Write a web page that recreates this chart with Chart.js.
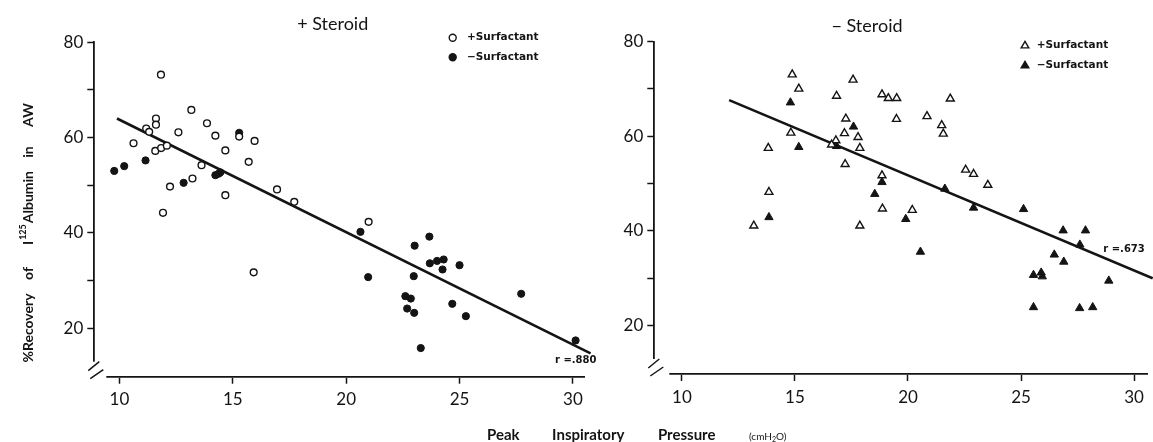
<!DOCTYPE html>
<html><head><meta charset="utf-8">
<script src="https://cdn.jsdelivr.net/npm/chart.js@4.4.1/dist/chart.umd.min.js"></script>
<style>
html,body{margin:0;padding:0;background:#fff;}
#wrap{position:relative;width:1153px;height:442px;background:#fff;}
canvas{position:absolute;left:0;top:0;}
</style></head><body>
<div id="wrap"><canvas id="cL" width="1153" height="442"></canvas><canvas id="cR" width="1153" height="442"></canvas></div>
<script>
const INK = '#141414';

// shared tick values
const xTickValues = [10, 15, 20, 25, 30];
const yTickValues = [20, 30, 40, 50, 60, 70, 80];
const yTickLabels = [20, 40, 60, 80];

// + Steroid panel, + Surfactant (open circles)
const psPlusX = [11.83,13.17,11.61,11.61,11.18,11.31,13.86,12.60,14.23,15.28,15.96,10.62,11.58,11.84,12.09,14.67,13.62,15.70,13.22,12.23,14.67,16.95,11.92,17.71,20.99,15.92];
const psPlusY = [73.2,65.8,64.0,62.7,61.9,61.2,63.0,61.1,60.4,60.2,59.3,58.8,57.2,57.8,58.3,57.3,54.2,54.9,51.4,49.7,47.9,49.1,44.2,46.5,42.3,31.7];
// + Steroid panel, - Surfactant (filled circles)
const psMinusX = [15.28,9.77,10.21,11.15,12.83,14.23,14.37,14.45,20.63,20.97,23.67,23.02,23.69,24.01,24.30,24.25,25.00,22.98,22.61,22.85,22.69,23.00,24.68,25.28,23.29,27.72,30.12];
const psMinusY = [61.0,53.0,54.0,55.2,50.5,52.1,52.4,52.7,40.2,30.7,39.2,37.3,33.6,34.1,34.4,32.3,33.2,30.9,26.7,26.2,24.1,23.2,25.1,22.5,15.8,27.2,17.4];
// + Steroid regression line
const psFitX = [9.89, 30.78];
const psFitY = [64.0, 14.7];

// - Steroid panel, + Surfactant (open triangles)
const msPlusX = [14.88,15.17,17.57,16.84,18.85,19.13,19.50,19.49,17.25,17.19,14.82,17.79,17.87,16.81,16.62,13.82,17.22,18.85,13.85,18.87,13.18,17.87,21.87,20.84,21.49,21.56,22.55,22.90,23.53,20.19];
const msPlusY = [73.0,70.0,71.9,68.5,68.8,68.0,68.0,63.6,63.7,60.6,60.7,59.8,57.5,59.1,58.2,57.5,54.1,51.7,48.2,44.7,41.1,41.1,67.9,64.2,62.3,60.5,52.9,52.0,49.7,44.4];
// - Steroid panel, - Surfactant (filled triangles)
const msMinusX = [14.80,15.17,17.59,16.84,18.85,18.53,13.85,19.90,21.63,22.90,25.11,20.55,26.86,27.85,27.60,26.47,26.89,25.55,25.89,25.94,28.88,25.55,27.59,28.17];
const msMinusY = [67.1,57.7,62.0,57.9,50.3,47.8,42.9,42.5,48.9,44.9,44.6,35.6,40.1,40.1,37.1,35.0,33.5,30.7,31.2,30.4,29.5,23.9,23.7,23.9];
// - Steroid regression line
const msFitX = [12.09, 30.82];
const msFitY = [67.6, 30.0];

// texts
const panelTitles = ['+ Steroid', '\u2212 Steroid'];
const legendLabels = ['+Surfactant', '\u2212Surfactant'];
const rLabels = ['r =.880', 'r =.673'];
const yTitleParts = ['%Recovery', 'of', 'I', '125', 'Albumin', 'in', 'AW'];
const xTitleWords = ['Peak', 'Inspiratory', 'Pressure'];
const xTitleUnit = ['(cmH', '2', 'O)'];

function pts(xs, ys) { return xs.map((x, i) => ({x: x, y: ys[i]})); }

function drawMarker(ctx, kind, filled, x, y, r) {
  ctx.beginPath();
  if (kind === 'circle') {
    ctx.arc(x, y, r, 0, Math.PI * 2);
  } else {
    ctx.moveTo(x, y - r);
    ctx.lineTo(x + 0.866 * r, y + 0.5 * r);
    ctx.lineTo(x - 0.866 * r, y + 0.5 * r);
    ctx.closePath();
  }
  ctx.fillStyle = filled ? INK : '#fff';
  ctx.fill();
  ctx.lineWidth = 1.4;
  ctx.strokeStyle = INK;
  ctx.stroke();
}

function drawBreak(ctx, a, gapX) {
  ctx.save();
  ctx.fillStyle = '#fff';
  ctx.fillRect(a.left - 4, a.bottom - 15, gapX + 4, 19);
  ctx.strokeStyle = INK;
  ctx.lineWidth = 1.5;
  ctx.beginPath();
  ctx.moveTo(a.left - 6, a.bottom - 6);
  ctx.lineTo(a.left + 5, a.bottom - 15);
  ctx.moveTo(a.left - 4, a.bottom + 2);
  ctx.lineTo(a.left + 9, a.bottom - 7);
  ctx.stroke();
  ctx.restore();
}

function yTitle(ctx) {
  const x = 28;
  ctx.save();
  ctx.fillStyle = INK;
  ctx.textBaseline = 'middle';
  const big = 'bold 14px Lato';
  const small = 'bold 9px Lato';
  const place = (txt, c) => {
    ctx.save(); ctx.translate(x, c); ctx.rotate(-Math.PI / 2);
    ctx.font = big; ctx.textAlign = 'center'; ctx.fillText(txt, 0, 0); ctx.restore();
  };
  place(yTitleParts[0], 328);
  place(yTitleParts[1], 273.5);
  place(yTitleParts[5], 152);
  place(yTitleParts[6], 115);
  // I^125 Albumin
  ctx.font = big; const wI = ctx.measureText(yTitleParts[2]).width;
  const wA = ctx.measureText(yTitleParts[4]).width;
  ctx.font = small; const wS = ctx.measureText(yTitleParts[3]).width;
  const total = wI + 1 + wS + 1 + wA;
  ctx.save(); ctx.translate(x, 208); ctx.rotate(-Math.PI / 2);
  ctx.textAlign = 'left';
  let s = -total / 2;
  ctx.font = big; ctx.fillText(yTitleParts[2], s, 0);
  s += wI + 1;
  ctx.font = small; ctx.fillText(yTitleParts[3], s, -5);
  s += wS + 1;
  ctx.font = big; ctx.fillText(yTitleParts[4], s, 0);
  ctx.restore();
  ctx.restore();
}

function xTitle(ctx) {
  ctx.save();
  ctx.fillStyle = INK;
  ctx.textBaseline = 'alphabetic';
  ctx.textAlign = 'center';
  ctx.font = 'bold 15px Lato';
  const centers = [503.3, 588.3, 686.7];
  xTitleWords.forEach((w, i) => ctx.fillText(w, centers[i], 440));
  ctx.textAlign = 'left';
  ctx.font = '10px Lato';
  let s = 749;
  ctx.fillText(xTitleUnit[0], s, 440); s += ctx.measureText(xTitleUnit[0]).width;
  ctx.font = '7px Lato';
  ctx.fillText(xTitleUnit[1], s, 442); s += ctx.measureText(xTitleUnit[1]).width;
  ctx.font = '10px Lato';
  ctx.fillText(xTitleUnit[2], s, 440);
  ctx.restore();
}

function makePanel(id, cfg) {
  const yW = 60, xH = 40;
  const a = cfg.area;
  const decor = {
    id: 'decor' + id,
    afterDraw(chart) {
      const ctx = chart.ctx;
      const ca = chart.chartArea;
      drawBreak(ctx, ca, cfg.gapX);
      ctx.save();
      ctx.fillStyle = INK;
      ctx.font = '18px Lato';
      ctx.textAlign = 'center';
      ctx.textBaseline = 'alphabetic';
      ctx.fillText(cfg.title, cfg.titlePos[0], cfg.titlePos[1]);
      // legend
      ctx.font = 'bold 10.5px "DejaVu Sans"';
      ctx.textAlign = 'left';
      ctx.textBaseline = 'middle';
      cfg.legendRows.forEach((row, i) => {
        drawMarker(ctx, cfg.marker, i === 1, row[0], row[1], cfg.legendR);
        ctx.fillStyle = INK;
        ctx.fillText(legendLabels[i], row[2], row[1]);
      });
      ctx.font = 'bold 10px "DejaVu Sans"';
      ctx.fillText(cfg.rText, cfg.rPos[0], cfg.rPos[1]);
      ctx.restore();
      if (cfg.extra) cfg.extra(ctx);
    }
  };
  const openStyle = {pointStyle: cfg.marker, pointRadius: cfg.r, pointBorderWidth: 1.4,
    pointBackgroundColor: '#fff', pointBorderColor: INK, showLine: false};
  const fillStyle = {pointStyle: cfg.marker, pointRadius: cfg.r + 0.2, pointBorderWidth: 1,
    pointBackgroundColor: INK, pointBorderColor: INK, showLine: false};
  return new Chart(document.getElementById(id), {
    type: 'scatter',
    data: {
      datasets: [
        Object.assign({label: '+Surfactant', data: pts(cfg.plusX, cfg.plusY)}, openStyle),
        Object.assign({label: '-Surfactant', data: pts(cfg.minusX, cfg.minusY)}, fillStyle),
        {type: 'line', label: 'fit', data: pts(cfg.fitX, cfg.fitY), showLine: true, fill: false,
         borderColor: INK, borderWidth: 2.6, pointRadius: 0, clip: false, tension: 0}
      ]
    },
    options: {
      responsive: false, animation: false, devicePixelRatio: 1, events: [],
      layout: {padding: {left: a.left - yW, top: a.top, right: 1153 - a.right, bottom: 442 - a.bottom - xH}},
      plugins: {legend: {display: false}, title: {display: false}, tooltip: {enabled: false}},
      scales: {
        x: {
          type: 'linear', min: cfg.xMin, max: cfg.xMax,
          afterBuildTicks: s => { s.ticks = xTickValues.map(v => ({value: v})); },
          afterFit: s => { s.height = xH; },
          grid: {display: true, drawOnChartArea: false, drawTicks: true, tickLength: 7, tickWidth: 1.5, tickColor: INK, color: INK},
          border: {display: true, color: INK, width: 1.8},
          ticks: {font: {family: 'Lato', size: 17}, color: INK, padding: 6, maxRotation: 0, autoSkip: false,
                  callback: v => String(v)}
        },
        y: {
          type: 'linear', min: cfg.yMin, max: cfg.yMax,
          afterBuildTicks: s => { s.ticks = yTickValues.map(v => ({value: v})); },
          afterFit: s => { s.width = yW; },
          grid: {display: true, drawOnChartArea: false, drawTicks: true, tickLength: 7, tickWidth: 1.5, tickColor: INK, color: INK},
          border: {display: true, color: INK, width: 1.8},
          ticks: {font: {family: 'Lato', size: 17}, color: INK, padding: 4, autoSkip: false,
                  callback: v => yTickLabels.includes(v) ? String(v) : ''}
        }
      }
    },
    plugins: [decor]
  });
}

makePanel('cL', {
  area: {left: 94.3, right: 584, top: 42.3, bottom: 376.7},
  xMin: 8.89, xMax: 30.49, yMin: 9.79, yMax: 80,
  plusX: psPlusX, plusY: psPlusY, minusX: psMinusX, minusY: psMinusY, fitX: psFitX, fitY: psFitY,
  marker: 'circle', r: 3.4, legendR: 3.5, gapX: 12,
  title: panelTitles[0], titlePos: [332.7, 29.5],
  legendRows: [[452.7, 37.7, 467], [452.7, 57.3, 467]],
  rText: rLabels[0], rPos: [555, 360.7],
  extra: yTitle
});

makePanel('cR', {
  area: {left: 654.3, right: 1147.7, top: 41.4, bottom: 374},
  xMin: 8.78, xMax: 30.57, yMin: 9.82, yMax: 80,
  plusX: msPlusX, plusY: msPlusY, minusX: msMinusX, minusY: msMinusY, fitX: msFitX, fitY: msFitY,
  marker: 'triangle', r: 4.6, legendR: 4.4, gapX: 15,
  title: panelTitles[1], titlePos: [867, 31.5],
  legendRows: [[1025, 45.7, 1036.7], [1025, 65.7, 1036.7]],
  rText: rLabels[1], rPos: [1103.3, 249],
  extra: xTitle
});
</script>
</body></html>
